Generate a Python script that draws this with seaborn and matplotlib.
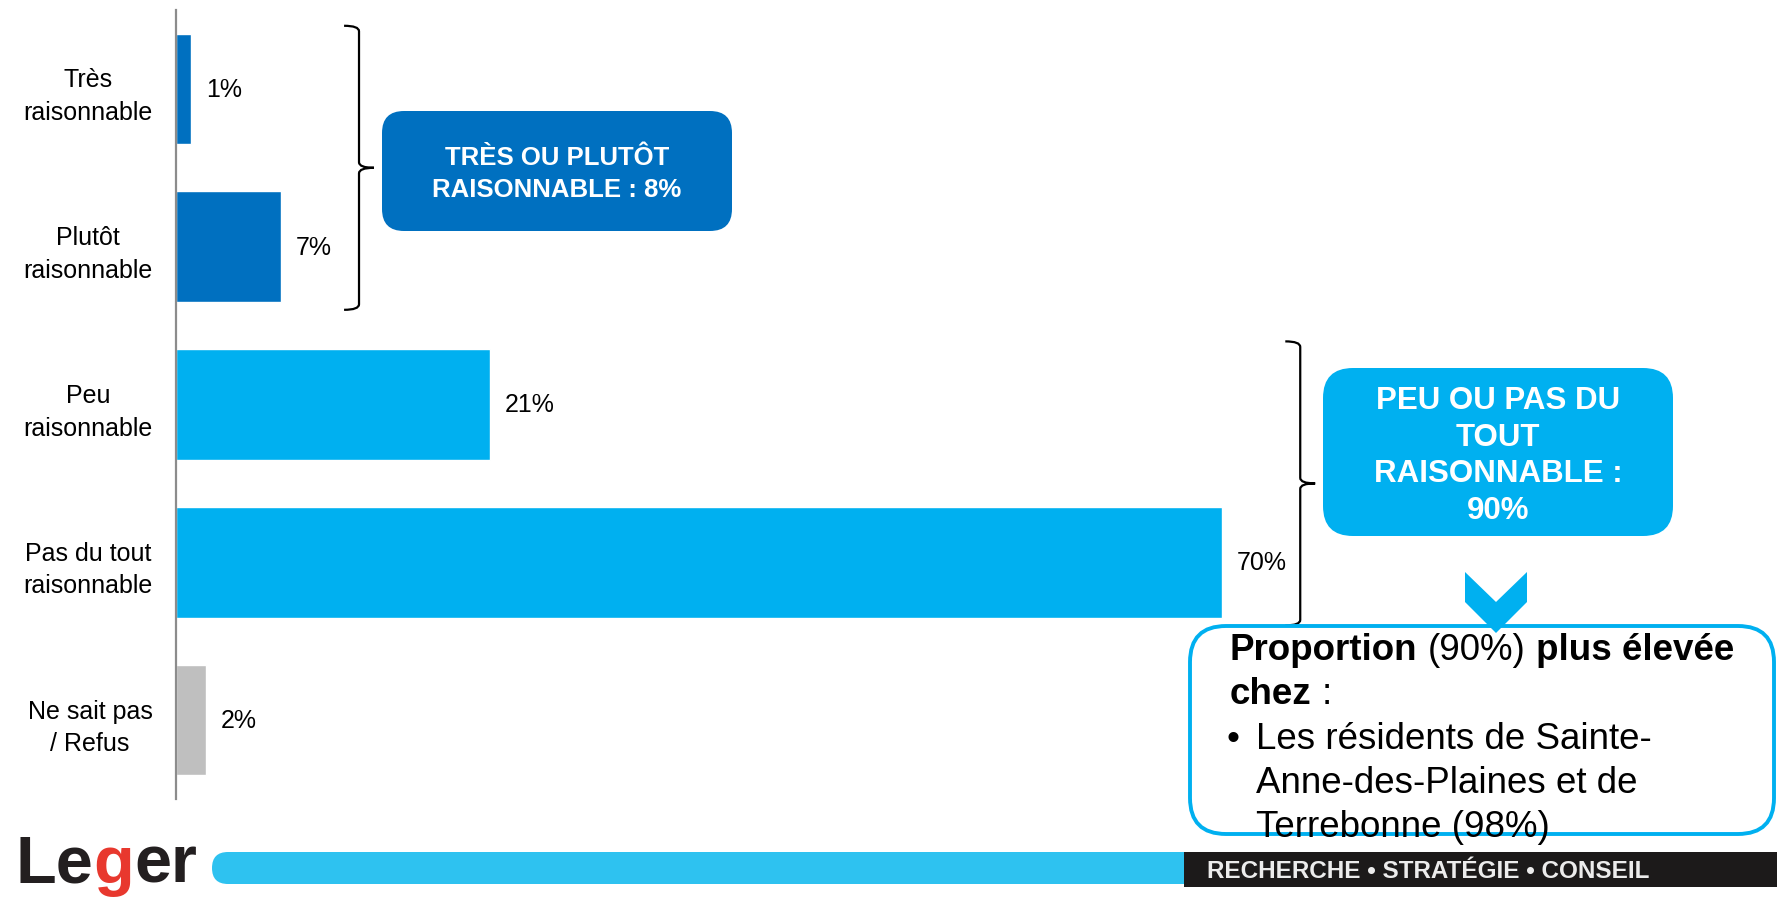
import matplotlib

matplotlib.use('Agg')
import matplotlib.pyplot as plt
import numpy as np
import pandas as pd
import seaborn as sns
from matplotlib.patches import FancyBboxPatch, PathPatch, Polygon
from matplotlib.path import Path

# ---- data ----
categories = ['Très\nraisonnable', 'Plutôt\nraisonnable', 'Peu\nraisonnable',
              'Pas du tout\nraisonnable', 'Ne sait pas\n/ Refus']
values = [1, 7, 21, 70, 2]
bar_colors = ['#0070C0', '#0070C0', '#00B0F0', '#00B0F0', '#BFBFBF']

group_labels = ['TRÈS OU PLUTÔT\nRAISONNABLE : 8%',
                'PEU OU PAS DU\nTOUT\nRAISONNABLE :\n90%']
group_members = [[0, 1], [2, 3]]
group_colors = ['#0070C0', '#00B0F0']

note_lines = [
    [('Proportion', 'bold'), (' ', 'normal'), ('(90%)', 'normal'), (' ', 'normal'),
     ('plus élevée', 'bold')],
    [('chez', 'bold'), (' ', 'normal'), (':', 'normal')],
]
note_bullet = ['Les résidents de Sainte-', 'Anne-des-Plaines et de', 'Terrebonne (98%)']
tagline = 'RECHERCHE • STRATÉGIE • CONSEIL'

W, H = 1777, 920

sns.set_style('white')
plt.rcParams['font.family'] = ['Liberation Sans', 'DejaVu Sans']
plt.rcParams['text.color'] = 'black'

df = pd.DataFrame({'cat': categories, 'val': values})

fig = plt.figure(figsize=(W / 100, H / 100), dpi=100)
ax = fig.add_axes([176 / W, 120 / H, (W - 176) / W, 789 / H])

sns.barplot(data=df, x='val', y='cat', hue='cat', palette=bar_colors,
            legend=False, width=0.7, saturation=1, ax=ax)

ax.set_xlim(0, (W - 176) / 14.94)
ax.set_ylim(len(categories) - 0.5, -0.5)
ax.set_xlabel('')
ax.set_ylabel('')
ax.set_xticks([])
for side in ('top', 'right', 'bottom'):
    ax.spines[side].set_visible(False)
ax.spines['left'].set_color('#8c8c8c')
ax.spines['left'].set_linewidth(1.6)

ax.set_yticks(np.arange(len(categories)))
ax.set_yticklabels(categories, fontsize=18, color='black')
for t in ax.get_yticklabels():
    t.set_multialignment('center')
    t.set_linespacing(1.45)
ax.tick_params(axis='y', which='major', length=0, pad=17)
ax.set_yticks(np.arange(len(categories) + 1) - 0.5, minor=True)
ax.tick_params(axis='y', which='minor', length=6, width=1.6, color='#8c8c8c',
               direction='out')

for cont in ax.containers:
    ax.bar_label(cont, labels=[f'{v:g}%' for v in cont.datavalues],
                 padding=11, fontsize=18, color='black')


def draw_brace(axis, x, y0, y1, w=1.0, r=0.035):
    ym = (y0 + y1) / 2
    verts = [(x - w, y0), (x, y0), (x, y0 + r), (x, ym - r), (x, ym), (x + w, ym),
             (x, ym), (x, ym + r), (x, y1 - r), (x, y1), (x - w, y1)]
    codes = [Path.MOVETO, Path.CURVE3, Path.CURVE3, Path.LINETO, Path.CURVE3,
             Path.CURVE3, Path.CURVE3, Path.CURVE3, Path.LINETO, Path.CURVE3,
             Path.CURVE3]
    axis.add_patch(PathPatch(Path(verts, codes), fill=False, lw=1.6,
                             edgecolor='black', clip_on=False))


for members in group_members:
    top = max(values[i] for i in members)
    draw_brace(ax, top + 5.25, members[0] - 0.4, members[-1] + 0.4)

# ---- overlay in pixel coordinates ----
ov = fig.add_axes([0, 0, 1, 1], zorder=5)
ov.set_xlim(0, W)
ov.set_ylim(H, 0)
ov.axis('off')
ov.patch.set_alpha(0)
renderer = fig.canvas.get_renderer()


def text_width(s, size, weight):
    t = ov.text(0, 0, s, fontsize=size, fontweight=weight)
    w = t.get_window_extent(renderer).width
    t.remove()
    return w


def put_runs(x, y, runs, size, color='black'):
    space = text_width('x x', size, 'normal') - text_width('xx', size, 'normal')
    for txt, weight, *c in runs:
        if txt == ' ':
            x += space
            continue
        ov.text(x, y, txt, fontsize=size, fontweight=weight, va='baseline',
                ha='left', color=c[0] if c else color)
        x += text_width(txt, size, weight)


box_specs = [((382, 112, 350, 120), 22, 18.5, (557, 174), 1.38),
             ((1323, 369, 350, 168), 30, 22.5, (1498, 456), 1.3)]
for spec, label, col in zip(box_specs, group_labels, group_colors):
    (bx, by, bw, bh), rad, fs, (tx, ty), ls = spec
    ov.add_patch(FancyBboxPatch((bx, by), bw, bh,
                                boxstyle=f'round,pad=0,rounding_size={rad}',
                                facecolor=col, edgecolor='none'))
    ov.text(tx, ty, label, ha='center', va='center', color='white', fontsize=fs,
            fontweight='bold', linespacing=ls)

# note box
ov.add_patch(FancyBboxPatch((1190, 627), 584, 208,
                            boxstyle='round,pad=0,rounding_size=36',
                            facecolor='white', edgecolor='#00B0F0', lw=2.8))
ov.add_patch(Polygon([(1465, 573), (1496, 603), (1527, 573), (1527, 603),
                      (1496, 634), (1465, 603)], closed=True,
                     facecolor='#00B0F0', edgecolor='none', zorder=6))
note_size = 26.5
put_runs(1230, 660, note_lines[0], note_size)
put_runs(1230, 704, note_lines[1], note_size)
ov.text(1226, 749, '•', fontsize=note_size, va='baseline', ha='left')
for k, line in enumerate(note_bullet):
    ov.text(1256, 749 + 44 * k, line, fontsize=note_size, va='baseline', ha='left')

# footer
ov.add_patch(FancyBboxPatch((212, 853), 990, 32,
                            boxstyle='round,pad=0,rounding_size=16',
                            facecolor='#2EC2F0', edgecolor='none'))
ov.add_patch(plt.Rectangle((1184, 853), W - 1184, 35, facecolor='#1c1a1a',
                           edgecolor='none'))
ov.text(1207, 872, tagline, fontsize=17.5, fontweight='bold', color='#ececec',
        va='center', ha='left')
put_runs(16, 883, [('Le', 'bold', '#231F20'), ('g', 'bold', '#E8382E'),
                   ('er', 'bold', '#231F20')], 48)

fig.savefig('out.png', dpi=100)
